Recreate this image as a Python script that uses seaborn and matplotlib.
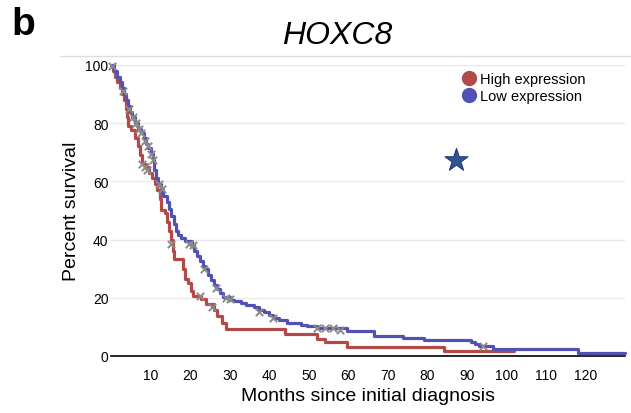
import numpy as np
import pandas as pd
import matplotlib
matplotlib.use("Agg")
import matplotlib.pyplot as plt
from matplotlib.lines import Line2D
import seaborn as sns

# ---- data ----
high_t = [0, 0.5, 1.0, 1.5, 2.2, 2.8, 3.2, 3.6, 4.0, 4.3, 5.0, 6.0, 6.8, 7.3, 7.8, 8.8, 9.6,
          10.2, 11.0, 11.6, 12.2, 12.6, 13.6, 14.0, 14.5, 15.0, 15.6, 15.9, 18.2, 18.7, 19.5,
          20.2, 20.8, 22.8, 24.0, 26.0, 26.8, 28.0, 28.9, 44.0, 52.0, 54.2, 59.7, 84.2, 102.0]
high_s = [100, 98, 96, 94, 92, 90, 88, 85, 82, 79, 77.5, 75, 72, 69, 66, 65, 63,
          61, 59, 57, 54, 50, 49, 46, 43, 40, 36, 33.5, 30, 26.5, 25,
          22.5, 20.5, 19.5, 17.8, 15.8, 13.8, 11.5, 9.2, 7.5, 5.8, 4.7, 3.2, 1.6, 1.6]

low_t = [0, 0.8, 1.5, 2.2, 2.8, 3.3, 3.8, 4.3, 4.8, 5.3, 6.0, 6.8, 7.5, 8.2, 8.8, 9.4, 10.0,
         10.5, 10.9, 11.2, 11.8, 12.5, 13.2, 14.0, 14.6, 15.2, 15.8, 16.3, 16.8, 17.6, 18.7,
         20.5, 21.0, 21.7, 22.5, 23.2, 23.8, 24.5, 25.2, 26.0, 26.8, 27.5, 28.2, 30.0, 31.0,
         32.7, 34.0, 36.0, 37.5, 38.6, 40.0, 41.0, 42.5, 44.5, 47.9, 49.6, 52.0, 59.7, 66.4,
         73.7, 79.2, 91.0, 92.0, 93.0, 96.5, 118.0, 130.0]
low_s = [100, 98, 96, 94, 92, 90, 88, 86, 84, 82, 80, 78, 76.5, 75, 73, 71.5, 69.5,
         67.5, 64, 61, 59, 57, 55, 53, 50.5, 48, 45.5, 43, 41.5, 40.5, 39.5,
         38, 36, 34.3, 32.5, 31, 29.8, 28, 26, 24.5, 23, 21.5, 20.2, 19.2, 18.8,
         18.2, 17.5, 16.7, 15.8, 15, 14, 13.2, 12.4, 11.5, 10.8, 10.2, 9.5, 8.7, 7.0,
         6.2, 5.6, 4.8, 4.0, 3.4, 2.4, 1.0, 1.0]

high_cens_t = [0.3, 7.8, 8.5, 9.0, 15.1, 22.5, 25.5]
high_cens_s = [99.5, 66, 65, 64, 38.5, 20.5, 17.0]
low_cens_t = [3.0, 4.5, 5.5, 6.2, 7.0, 7.6, 8.5, 9.3, 10.0, 10.6, 12.0, 12.8, 19.6, 20.6,
              23.4, 26.6, 29.1, 30.0, 37.3, 41.0, 52.0, 54.0, 56.0, 58.0, 94.0]
low_cens_s = [91, 85, 82, 80, 78, 76.5, 74, 72, 69.5, 67.5, 59, 57.5, 38.5, 38,
              29.8, 23.5, 20.1, 19.6, 15, 13.2, 9.5, 9.5, 9.5, 9.0, 3.3]

star_x = [87.2]
star_y = [67.5]

x_ticks = [10, 20, 30, 40, 50, 60, 70, 80, 90, 100, 110, 120]
y_ticks = [0, 20, 40, 60, 80, 100]
series_names = ["High expression", "Low expression"]
series_colors = ["#b24b48", "#5152b3"]

# ---- plot ----
sns.set_style("white")
plt.rcParams['font.family'] = ['Liberation Sans', 'DejaVu Sans']
plt.rcParams['text.color'] = 'black'
plt.rcParams['axes.labelcolor'] = 'black'
plt.rcParams['xtick.color'] = 'black'
plt.rcParams['ytick.color'] = 'black'

fig = plt.figure(figsize=(6.31, 4.14), dpi=100)
ax = fig.add_axes([0.1764, 0.1377, 0.8141, 0.7029])

for y in y_ticks[1:]:
    ax.axhline(y, color="#e9e9e9", lw=1.0, zorder=0)

high_df = pd.DataFrame({"t": high_t, "s": high_s})
low_df = pd.DataFrame({"t": low_t, "s": low_s})
sns.lineplot(data=high_df, x="t", y="s", drawstyle="steps-post", estimator=None,
             color=series_colors[0], lw=2.3, ax=ax, zorder=3, clip_on=False)
sns.lineplot(data=low_df, x="t", y="s", drawstyle="steps-post", estimator=None,
             color=series_colors[1], lw=2.3, ax=ax, zorder=3, clip_on=False)

sns.scatterplot(x=low_cens_t, y=low_cens_s, marker="x", color="#8a8a8a", s=28,
                linewidth=1.4, ax=ax, zorder=4, clip_on=False)
sns.scatterplot(x=high_cens_t, y=high_cens_s, marker="x", color="#8a8a8a", s=28,
                linewidth=1.4, ax=ax, zorder=4, clip_on=False)

sns.scatterplot(x=star_x, y=star_y, marker="*", color="#2f5597", edgecolor="#1e3c70",
                s=300, linewidth=0.8, ax=ax, zorder=5)

ax.set_xlim(0, 130)
ax.set_ylim(0, 100)
ax.set_xticks(x_ticks)
ax.set_yticks(y_ticks)
ax.set_xticklabels([str(v) for v in x_ticks])
ax.set_yticklabels([str(v) for v in y_ticks])
ax.tick_params(axis="x", length=5, width=1.2, color="black", labelsize=10, pad=4)
ax.tick_params(axis="y", length=0, labelsize=10, pad=2)
for side in ["top", "right", "left"]:
    ax.spines[side].set_visible(False)
ax.spines["bottom"].set_color("black")
ax.spines["bottom"].set_linewidth(1.2)

ax.set_xlabel("Months since initial diagnosis", fontsize=14, labelpad=3)
ax.set_ylabel("Percent survival", fontsize=14, labelpad=4)

handles = [Line2D([], [], marker="o", ls="", markersize=10, color=c) for c in series_colors]
leg = ax.legend(handles, series_names, loc="upper left", bbox_to_anchor=(0.67, 0.995),
                frameon=False, fontsize=10.5, handletextpad=0.25, labelspacing=0.2,
                handlelength=1.0, borderaxespad=0)

# top rule and texts
fig.add_artist(Line2D([60 / 631, 1.0], [1 - 57 / 414, 1 - 57 / 414], color="#dddddd", lw=1.0))
fig.text(337 / 631, 1 - 36 / 414, "HOXC8", fontsize=23, style="italic", ha="center", va="center")
fig.text(11 / 631, 1 - 25 / 414, "b", fontsize=28, fontweight="bold", ha="left", va="center")

fig.savefig("out.png", dpi=100)
